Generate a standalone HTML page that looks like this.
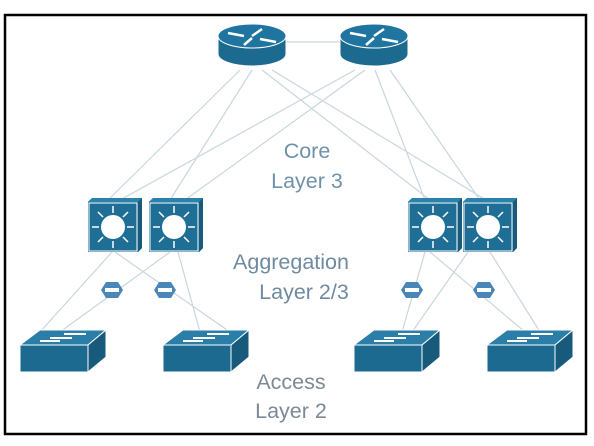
<!DOCTYPE html>
<html><head><style>
html,body{margin:0;padding:0;background:#fff;}
svg{display:block;}
</style></head><body>
<svg width="594" height="446" viewBox="0 0 594 446" xmlns="http://www.w3.org/2000/svg">
<defs>
<g id="router">
  <path d="M0,12 L0,30 A34,12 0 0 0 68,30 L68,12 Z" fill="#1d6a90" stroke="#fff" stroke-width="1"/>
  <ellipse cx="34" cy="12" rx="34" ry="12" fill="#1f74a0" stroke="#fff" stroke-width="1"/>
  <g stroke="#fff" stroke-width="2.5" fill="none">
    <path d="M10,9 L26,12"/><path d="M44,5 L34,12"/><path d="M26,21 L34,14"/><path d="M42,15 L58,18"/>
  </g>
</g>
<g id="agg">
  <path d="M0,4 L4,0 L54,0 L54,50 L50,54 L0,54 Z" fill="#1f6e96"/>
  <path d="M50,4 L54,0 L54,50 L50,54 Z" fill="#175a7c"/>
  <path d="M0,4 L4,0 L54,0 L50,4 Z" fill="#2a82ab"/>
  <rect x="1" y="5" width="48" height="48" fill="none" stroke="#fff" stroke-width="1"/>
  <circle cx="25" cy="29" r="12" fill="#fff"/>
  <g stroke="#fff" stroke-width="1.5">
    <path d="M25,15 V8 M25,43 V50 M11,29 H4 M39,29 H46 M15,19 L10,14 M35,19 L40,14 M15,39 L10,44 M35,39 L40,44"/>
  </g>
</g>
<g id="acc">
  <path d="M0,15 L20,0 L86,0 L68,15 Z" fill="#2a7ea8" stroke="#fff" stroke-width="1"/>
  <rect x="0" y="15" width="68" height="27" fill="#1d6a90" stroke="#fff" stroke-width="1"/>
  <path d="M68,15 L86,0 L86,27 L68,42 Z" fill="#175a7c" stroke="#fff" stroke-width="1"/>
  <g stroke="#fff" stroke-width="2"><path d="M20,11 H40 M44,4 H66 M30,8 H52"/></g>
</g>
<g id="blk">
  <path d="M-6,-8 L6,-8 L11,0 L6,8 L-6,8 L-11,0 Z" fill="#4a87b8"/>
  <rect x="-7" y="-2" width="14" height="4" fill="#fff"/>
</g>
</defs>
<rect x="5" y="15" width="581" height="419" fill="none" stroke="#000" stroke-width="2.5"/>
<g stroke="#c9d6de" stroke-width="1.2" fill="none">
  <line x1="286" y1="42" x2="340" y2="42"/>
  <line x1="240" y1="70" x2="108" y2="200"/>
  <line x1="252" y1="70" x2="170" y2="200"/>
  <line x1="262" y1="70" x2="430" y2="200"/>
  <line x1="272" y1="70" x2="486" y2="200"/>
  <line x1="355" y1="70" x2="120" y2="200"/>
  <line x1="365" y1="70" x2="185" y2="200"/>
  <line x1="375" y1="70" x2="425" y2="200"/>
  <line x1="390" y1="70" x2="480" y2="200"/>
  <line x1="112" y1="252" x2="40" y2="332"/>
  <line x1="115" y1="252" x2="230" y2="332"/>
  <line x1="170" y1="252" x2="60" y2="332"/>
  <line x1="178" y1="252" x2="200" y2="332"/>
  <line x1="425" y1="252" x2="402" y2="332"/>
  <line x1="430" y1="252" x2="525" y2="332"/>
  <line x1="468" y1="252" x2="412" y2="332"/>
  <line x1="490" y1="252" x2="540" y2="332"/>
</g>
<use href="#router" x="218" y="24"/>
<use href="#router" x="340" y="24"/>
<use href="#agg" x="88" y="198"/>
<use href="#agg" x="149" y="198"/>
<use href="#agg" x="408" y="198"/>
<use href="#agg" x="463" y="198"/>
<use href="#acc" x="20" y="330"/>
<use href="#acc" x="163" y="330"/>
<use href="#acc" x="354" y="330"/>
<use href="#acc" x="487" y="330"/>
<use href="#blk" x="112" y="290"/>
<use href="#blk" x="165" y="290"/>
<use href="#blk" x="412" y="290"/>
<use href="#blk" x="484" y="290"/>
<g font-family="Liberation Sans, sans-serif" font-size="21.5" text-anchor="middle">
  <text x="307" y="158" fill="#6f92ab">Core</text>
  <text x="307" y="188" fill="#6f92ab">Layer 3</text>
  <text x="291" y="269" fill="#6f8aa0">Aggregation</text>
  <text x="304" y="299" fill="#6f8aa0">Layer 2/3</text>
  <text x="291" y="389" fill="#7b8a96">Access</text>
  <text x="291" y="418" fill="#7b8a96">Layer 2</text>
</g>
</svg>
</body></html>
